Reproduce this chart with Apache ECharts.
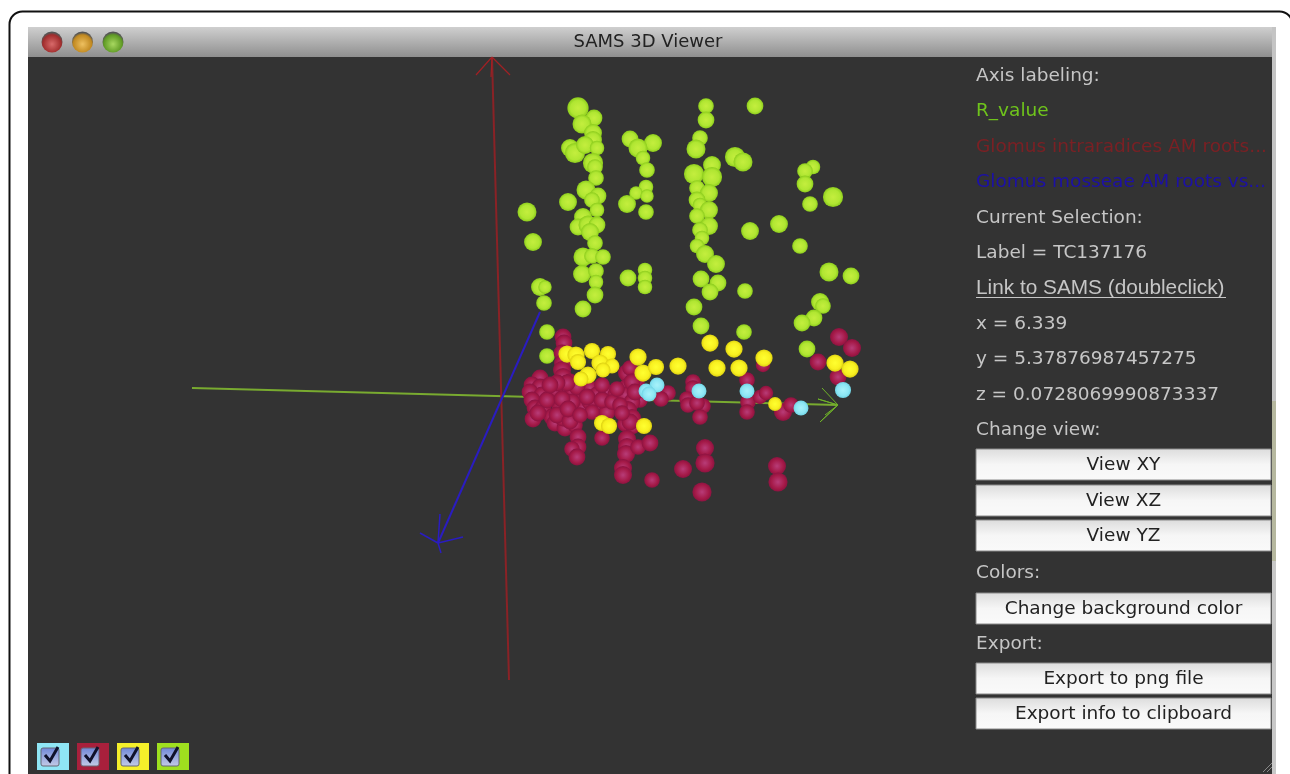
<!DOCTYPE html>
<html><head><meta charset="utf-8">
<style>html,body{margin:0;padding:0;background:#fff}#c{width:1290px;height:774px}</style>
<script src="https://cdn.jsdelivr.net/npm/echarts@6/dist/echarts.min.js"></script>
</head><body><div id="c"></div>
<script>
// Projected scene values [x, y, depth]
const greenPoints = [[76,289,19],[92,279,15],[80,273,17],[91,264,16],[91,257,16],[68,249,16],[73,244,18],[83,252,16],[95,249,13],[91,234,18],[93,230,14],[94,219,14],[84,207,17],[96,201,15],[90,197,14],[66,195,16],[25,185,17],[95,187,13],[81,180,16],[76,170,15],[86,172,17],[95,172,15],[88,165,16],[93,154,14],[31,155,16],[81,140,17],[90,141,14],[101,140,14],[80,123,16],[94,126,14],[94,115,13],[93,102,15],[81,88,15],[38,110,16],[43,110,12],[42,94,14],[45,65,14],[45,41,14],
[128,258,15],[151,254,16],[136,249,17],[141,239,13],[145,227,14],[144,210,13],[134,204,12],[145,201,12],[125,193,16],[144,185,14],[126,119,15],[143,127,13],[143,119,13],[143,110,13],
[204,291,14],[204,277,15],[198,259,14],[194,248,17],[233,240,18],[241,235,17],[253,291,15],[210,232,16],[192,223,18],[210,220,18],[195,209,14],[207,204,16],[195,197,15],[198,192,13],[207,187,16],[195,181,14],[207,171,16],[198,167,14],[200,159,13],[195,151,13],[203,143,16],[214,133,16],[199,118,15],[216,114,15],[208,105,15],[243,106,14],[192,90,15],[199,71,15],[242,65,14],
[311,230,13],[303,226,14],[303,213,15],[331,200,18],[308,193,14],[277,173,16],[248,166,16],[298,151,14],[327,125,17],[349,121,15],[318,95,16],[321,91,14],[312,79,15],[300,74,15],[305,48,15]];
const redPoints = [[61,60,14],[62,54,14],[60,44,14],[61,34,15],[60,27,15],[61,20,15],[38,19,14],[30,12,14],[38,10,14],[28,5,14],[40,2,14],[30,-3,14],[50,-1,14],[33,-11,14],[41,-11,14],[31,-22,14],[50,-20,14],[53,-26,14],[63,-31,14],[73,-28,13],[61,4,14],[53,7,14],[71,5,14],[78,-3,14],[65,-5,14],[58,-11,14],[70,-16,14],[61,-21,14],[81,-11,13],[88,9,13],[95,2,14],[105,4,14],[113,2,13],[97,-10,14],[105,-15,14],[88,-5,14],[125,24,15],[128,29,13],[135,15,13],[125,10,14],[123,2,14],[138,-3,13],[130,-5,14],[126,-13,15],[130,-21,15],[123,-27,13],[131,-30,12],[166,4,13],[159,-2,13],
[68,15,14],[70,-5,14],[75,10,14],[85,0,14],[100,-3,14],[110,-5,13],[118,-8,13],[55,-18,14],[45,-3,14],[36,-16,14],[60,-2,14],[68,-24,14],[90,-15,13],[100,12,13],[115,8,13],[130,15,14],[133,5,14],[128,-25,14],[65,14,14],[55,14,14],[48,12,14],[66,-12,14],[78,-18,13],[120,-16,13],
[76,-40,14],[76,-50,14],[70,-52,13],[75,-60,14],[100,-41,13],[125,-42,15],[125,-50,15],[124,-57,15],[136,-50,13],[148,-46,14],[121,-71,15],[121,-78,15],[150,-83,13],[181,-72,15],[203,-51,15],[203,-66,16],[200,-95,16],[275,-69,15],[276,-85,16],
[191,15,13],[191,9,13],[185,-2,13],[186,-8,13],[201,-9,13],[195,-6,13],[198,-20,13],[245,17,13],[246,-5,13],[245,-15,13],[258,0,12],[264,4,12],[281,-15,15],[289,-8,13],[337,60,15],[350,49,15],[316,35,14],[336,20,14],[261,32,12]];
const yellowPoints = [[65,43,15],[74,42,15],[76,35,14],[90,46,14],[106,43,14],[98,34,15],[110,31,13],[101,27,13],[86,22,15],[79,18,13],[136,40,15],[141,24,15],[154,30,14],[176,31,15],[208,54,15],[232,48,15],[215,29,15],[237,29,15],[262,39,15],[333,34,15],[348,28,15],[100,-26,14],[107,-29,14],[142,-29,14],[273,-7,12]];
const cyanPoints = [[155,12,13],[144,6,13],[147,3,13],[197,6,13],[245,6,13],[299,-11,13],[341,7,14]];
// Scene axes and arrow heads
const axisGreen = [[-310,9],[336,-8]];
const axisRed = [[-10,340],[7,-283]];
const axisBlue = [[38,85],[-64,-146]];
const headGreen = [[320,9],[336,-8],[318,-25],[336,-8],[316,-2],[336,-8],[323,-18]];
const headRed = [[-26,322],[-10,340],[8,322],[-10,340],[-11,320]];
const headBlue = [[-82,-136],[-64,-146],[-39,-140],[-64,-146],[-62,-117],[-64,-146],[-61,-156]];
// Panel text
const windowTitle = 'SAMS 3D Viewer';
const panelLabels = [
  ['Axis labeling:', '#c6c6c6', 76.5],
  ['R_value', '#6fc41c', 111.5],
  ['Glomus intraradices AM roots...', '#7a2024', 147.5],
  ['Glomus mosseae AM roots vs...', '#1c10a6', 182.5],
  ['Current Selection:', '#c6c6c6', 218.5],
  ['Label = TC137176', '#c6c6c6', 253.5],
  ['x = 6.339', '#c6c6c6', 324.5],
  ['y = 5.37876987457275', '#c6c6c6', 359.5],
  ['z = 0.0728069990873337', '#c6c6c6', 395.5],
  ['Change view:', '#c6c6c6', 430.5],
  ['Colors:', '#c6c6c6', 573.5],
  ['Export:', '#c6c6c6', 644.5]
];
const linkLabel = 'Link to SAMS (doubleclick)';
const buttonLabels = [['View XY',449],['View XZ',485],['View YZ',520],['Change background color',593],['Export to png file',663],['Export info to clipboard',698]];
const checkColors = ['#8fe6f5','#a8203c','#f5f02a','#9fe01f'];
const lights = [['#d86a6a','#a02c2c'],['#eec060','#c08820'],['#a8d860','#5f9a24']];

const ball = (c0,c1,c2)=>({type:'radial',x:0.5,y:0.5,r:0.5,colorStops:[{offset:0,color:c0},{offset:0.7,color:c1},{offset:1,color:c2}]});
const FONT = '"DejaVu Sans"';
const g = [];
// page frame
g.push({type:'rect',z:0,shape:{x:9.5,y:11.5,width:1283,height:800,r:13},style:{fill:'#fff',stroke:'#111',lineWidth:2}});
// title bar
g.push({type:'rect',z:1,shape:{x:28,y:27,width:1244,height:30},style:{fill:{type:'linear',x:0,y:0,x2:0,y2:1,colorStops:[{offset:0,color:'#cfcfcf'},{offset:1,color:'#8f8f8f'}]}}});
g.push({type:'rect',z:1,shape:{x:1272,y:27,width:4,height:374},style:{fill:'#c4c4c4'}});
g.push({type:'rect',z:1,shape:{x:1272,y:401,width:4,height:160},style:{fill:'#b6b89f'}});
g.push({type:'rect',z:1,shape:{x:1272,y:561,width:4,height:213},style:{fill:'#c8c8c8'}});
g.push({type:'text',z:3,style:{text:windowTitle,x:648,y:42.5,align:'center',verticalAlign:'middle',font:'18px '+FONT,fill:'#222'}});
lights.forEach((l,i)=>{
  g.push({type:'circle',z:3,shape:{cx:52+i*30.5,cy:42,r:10.5},style:{fill:{type:'radial',x:0.5,y:0.6,r:0.55,colorStops:[{offset:0,color:l[0]},{offset:0.8,color:l[1]},{offset:1,color:'#555'}]}}});
});
// panel text
panelLabels.forEach(p=>{
  g.push({type:'text',z:3,style:{text:p[0],x:976,y:p[2],verticalAlign:'middle',font:'18.5px '+FONT,fill:p[1]}});
});
g.push({type:'text',z:3,style:{text:linkLabel,x:976,y:288,verticalAlign:'middle',font:'20.8px "Liberation Sans"',fill:'#c6c6c6'}});
g.push({type:'line',z:3,shape:{x1:976,y1:297.5,x2:1226,y2:297.5},style:{stroke:'#c6c6c6',lineWidth:1}});
buttonLabels.forEach(b=>{
  g.push({type:'rect',z:3,shape:{x:976,y:b[1],width:295,height:31},style:{fill:{type:'linear',x:0,y:0,x2:0,y2:1,colorStops:[{offset:0,color:'#dcdcdc'},{offset:0.5,color:'#f6f6f6'},{offset:1,color:'#fafafa'}]},stroke:'#8a8a8a',lineWidth:1}});
  g.push({type:'text',z:4,style:{text:b[0],x:1123.5,y:b[1]+16.5,align:'center',verticalAlign:'middle',font:'18.5px '+FONT,fill:'#222'}});
});
// visibility check boxes
checkColors.forEach((c,i)=>{
  const x=37+i*40;
  g.push({type:'rect',z:3,shape:{x:x,y:743,width:32,height:27},style:{fill:c}});
  g.push({type:'rect',z:4,shape:{x:x+4,y:748,width:18,height:18,r:2},style:{fill:{type:'linear',x:0,y:0,x2:0,y2:1,colorStops:[{offset:0,color:'#6f86d8'},{offset:1,color:'#c4cce6'}]},stroke:'#667',lineWidth:1}});
  g.push({type:'polyline',z:5,shape:{points:[[x+8,755],[x+13,761],[x+21,747]]},style:{fill:null,stroke:'#10122c',lineWidth:3}});
});
// resize grip
[[1263,772,1272,763],[1267,772,1272,767]].forEach(s=>{
  g.push({type:'line',z:5,shape:{x1:s[0],y1:s[1],x2:s[2],y2:s[3]},style:{stroke:'#888',lineWidth:1}});
});

const lineS=(data,color,w,name)=>({type:'line',name,data,symbol:'none',silent:true,z:2,lineStyle:{color,width:w},animation:false});
const dots=(name,data,color,z,k)=>({type:'scatter',name,data,symbol:'circle',symbolSize:v=>v[2]*k,z,silent:true,animation:false,itemStyle:{color,opacity:1}});

const chart = echarts.init(document.getElementById('c'),null,{renderer:'canvas'});
chart.setOption({
  animation:false,
  backgroundColor:'#fff',
  graphic:{elements:g},
  grid:{left:28,right:18,top:57,bottom:0,show:true,backgroundColor:'#333333',borderWidth:0,z:1},
  xAxis:{type:'value',min:-474,max:770,show:false},
  yAxis:{type:'value',min:-377,max:340,show:false},
  tooltip:{show:false},
  series:[
    lineS(axisGreen,'#79ab30',2,'X axis'),
    lineS(headGreen,'#6fb328',1,'X head'),
    lineS(axisRed,'#8a2226',2,'Y axis'),
    lineS(headRed,'#a02024',1.2,'Y head'),
    lineS(axisBlue,'#2a1cc0',2,'Z axis'),
    lineS(headBlue,'#2a1cc0',1.5,'Z head'),
    dots('R_value',greenPoints,ball('#c4ee3e','#b0e632','#8ccc1c'),3,1.12),
    dots('Glomus intraradices',redPoints,ball('#b83c78','#a51a48','#8c1240'),4,1.2),
    dots('Glomus mosseae',yellowPoints,ball('#ffff30','#f8f020','#dcd010'),5,1.15),
    dots('Selected',cyanPoints,ball('#a8f2fa','#8ce6f4','#70d4e4'),6,1.15)
  ]
});
</script></body></html>
